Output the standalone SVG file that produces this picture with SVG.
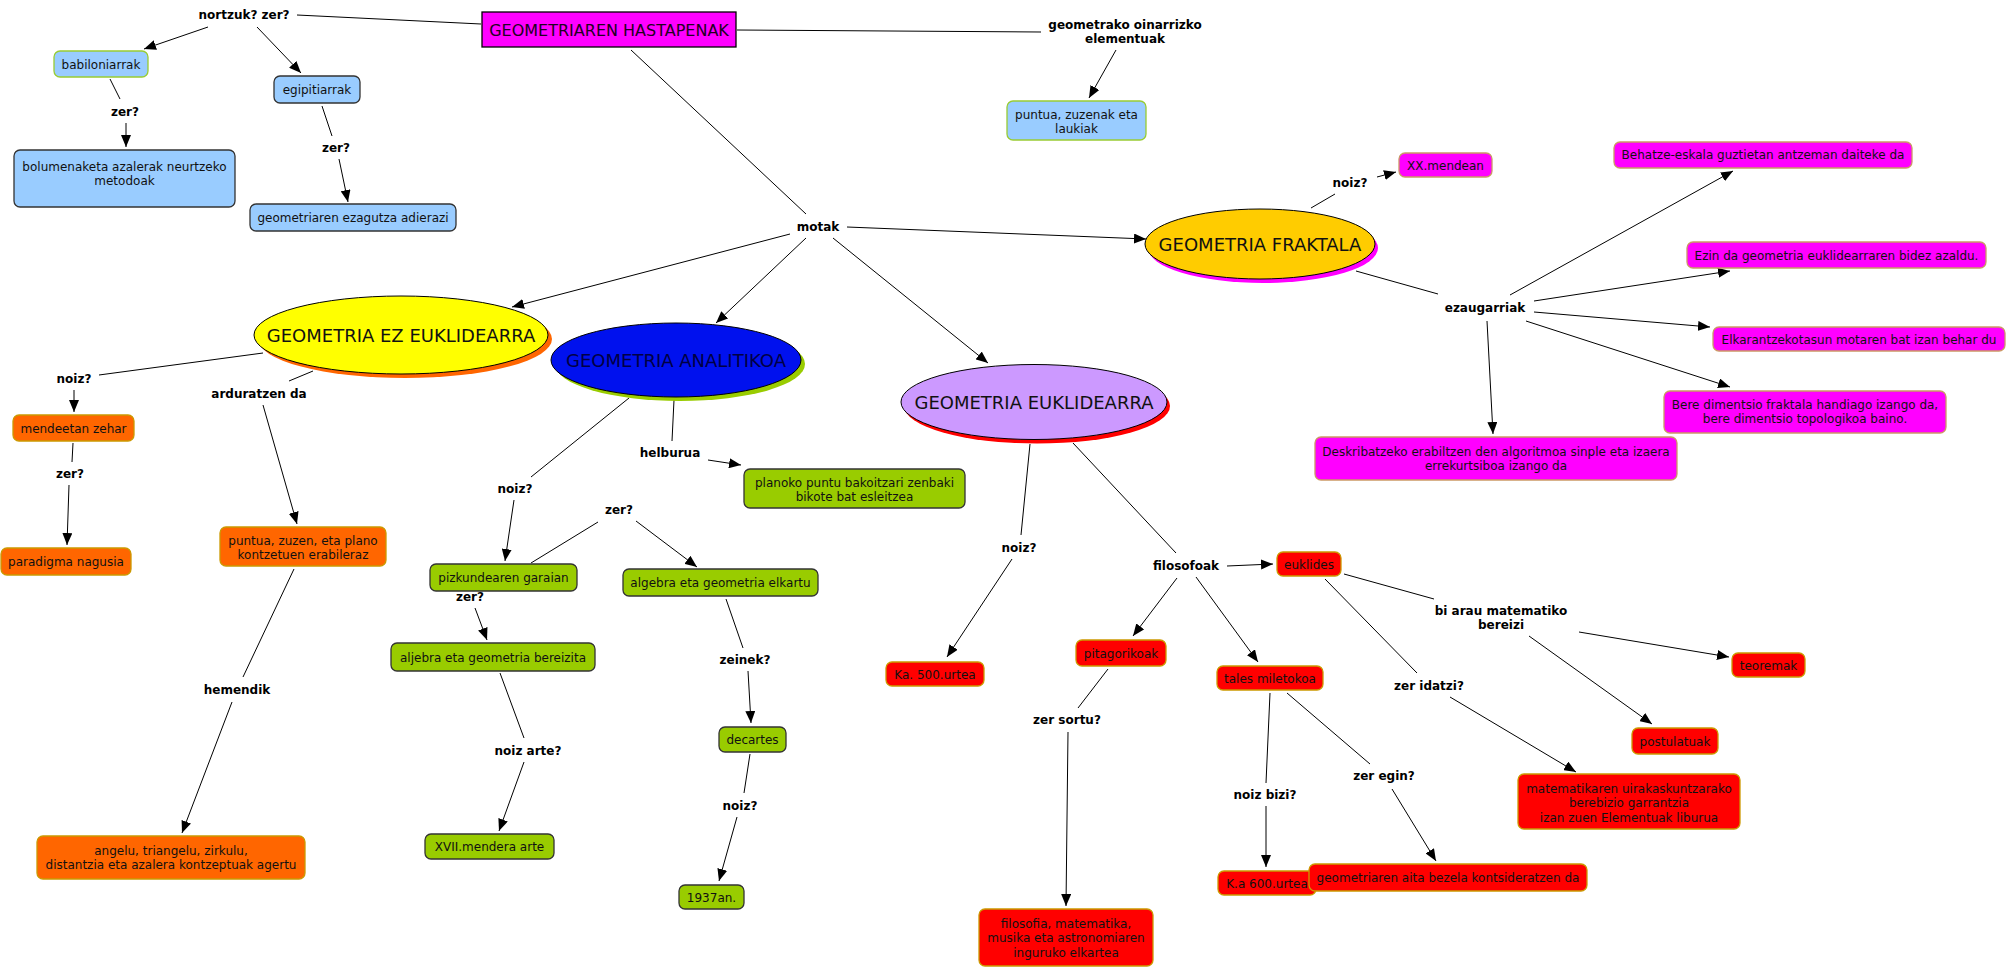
<svg xmlns="http://www.w3.org/2000/svg" width="2008" height="969" viewBox="0 0 2008 969">
<defs>
<marker id="ah" markerUnits="userSpaceOnUse" markerWidth="12" markerHeight="10" refX="12" refY="5" orient="auto">
<path d="M0,0 L12,5 L0,10 z" fill="#000"/>
</marker>
<style>
text{font-family:"DejaVu Sans",Verdana,sans-serif;text-anchor:middle;}
.lbl{font-size:12px;font-weight:bold;fill:#000;}
.nt{font-size:12px;fill:#111;}
.bt{font-size:18px;fill:#111;}
.c line{stroke:#000;stroke-width:1;fill:none;}
.c line.a{marker-end:url(#ah);}
rect.n{stroke-width:1.3;}
.blue{fill:#99CCFF;stroke:#333;}
.blueg{fill:#99CCFF;stroke:#99CC33;}
.or{fill:#FF6600;stroke:#CC9900;}
.gr{fill:#99CC00;stroke:#333;}
.rd{fill:#FF0000;stroke:#CC9900;}
.mg{fill:#FF00FF;stroke:#CC9966;}
ellipse.e{stroke:#000;stroke-width:1;}
</style>
</defs>
<rect width="2008" height="969" fill="#fff"/>

<g class="c">
<line x1="481" y1="24" x2="297" y2="15"/>
<line class="a" x1="208" y1="27" x2="144" y2="49"/>
<line class="a" x1="257" y1="27" x2="301" y2="73"/>
<line x1="110" y1="79" x2="120" y2="99"/>
<line class="a" x1="126" y1="123" x2="126" y2="147"/>
<line x1="322" y1="106" x2="332" y2="136"/>
<line class="a" x1="339" y1="159" x2="348" y2="202"/>
<line x1="737" y1="30" x2="1041" y2="32"/>
<line class="a" x1="1116" y1="50" x2="1089" y2="98"/>
<line x1="631" y1="50" x2="806" y2="214"/>
<line class="a" x1="847" y1="227" x2="1146" y2="239"/>
<line class="a" x1="790" y1="234" x2="512" y2="307"/>
<line class="a" x1="806" y1="238" x2="716" y2="323"/>
<line class="a" x1="833" y1="238" x2="988" y2="363"/>
<line x1="1311" y1="208" x2="1335" y2="194"/>
<line class="a" x1="1377" y1="177" x2="1396" y2="172"/>
<line x1="1356" y1="271" x2="1438" y2="294"/>
<line class="a" x1="1510" y1="295" x2="1733" y2="171"/>
<line class="a" x1="1534" y1="301" x2="1730" y2="271"/>
<line class="a" x1="1534" y1="312" x2="1710" y2="327"/>
<line class="a" x1="1526" y1="321" x2="1730" y2="387"/>
<line class="a" x1="1487" y1="321" x2="1493" y2="434"/>
<line x1="263" y1="353" x2="99" y2="375"/>
<line class="a" x1="74" y1="390" x2="74" y2="412"/>
<line x1="73" y1="443" x2="72" y2="462"/>
<line class="a" x1="69" y1="485" x2="67" y2="545"/>
<line x1="313" y1="371" x2="289" y2="381"/>
<line class="a" x1="263" y1="405" x2="297" y2="524"/>
<line x1="294" y1="569" x2="243" y2="677"/>
<line class="a" x1="232" y1="702" x2="182" y2="833"/>
<line x1="629" y1="398" x2="531" y2="477"/>
<line class="a" x1="514" y1="500" x2="505" y2="561"/>
<line x1="531" y1="563" x2="598" y2="522"/>
<line class="a" x1="636" y1="521" x2="697" y2="567"/>
<line x1="674" y1="400" x2="672" y2="441"/>
<line class="a" x1="708" y1="460" x2="741" y2="465"/>
<line class="a" x1="475" y1="608" x2="487" y2="640"/>
<line x1="500" y1="673" x2="524" y2="738"/>
<line class="a" x1="524" y1="762" x2="499" y2="831"/>
<line x1="726" y1="599" x2="743" y2="648"/>
<line class="a" x1="748" y1="671" x2="751" y2="723"/>
<line x1="750" y1="754" x2="744" y2="793"/>
<line class="a" x1="737" y1="817" x2="719" y2="881"/>
<line x1="1030" y1="444" x2="1021" y2="535"/>
<line class="a" x1="1012" y1="559" x2="947" y2="657"/>
<line x1="1073" y1="443" x2="1176" y2="553"/>
<line class="a" x1="1227" y1="566" x2="1273" y2="564"/>
<line class="a" x1="1177" y1="578" x2="1133" y2="636"/>
<line class="a" x1="1196" y1="577" x2="1258" y2="662"/>
<line x1="1344" y1="574" x2="1434" y2="599"/>
<line class="a" x1="1579" y1="632" x2="1729" y2="657"/>
<line class="a" x1="1529" y1="636" x2="1652" y2="724"/>
<line x1="1325" y1="579" x2="1417" y2="673"/>
<line class="a" x1="1450" y1="697" x2="1576" y2="772"/>
<line x1="1108" y1="669" x2="1078" y2="708"/>
<line class="a" x1="1068" y1="732" x2="1066" y2="906"/>
<line x1="1270" y1="693" x2="1266" y2="783"/>
<line class="a" x1="1266" y1="806" x2="1266" y2="867"/>
<line x1="1287" y1="693" x2="1370" y2="764"/>
<line class="a" x1="1392" y1="789" x2="1436" y2="861"/>
</g>

<g id="hastapenak"><rect x="482" y="12" width="254" height="35" fill="#FF00FF" stroke="#000" stroke-width="1.3"/><text x="609" y="36" style="font-size:16px;fill:#220022">GEOMETRIAREN HASTAPENAK</text></g>

<g id="lbl-nortzuk"><text class="lbl" x="244" y="18.5">nortzuk? zer?</text></g>
<g id="babiloniarrak"><rect class="n blueg" x="54" y="51" width="94" height="26" rx="6"/><text class="nt" x="101" y="68.5">babiloniarrak</text></g>
<g id="egipitiarrak"><rect class="n blue" x="274" y="76" width="86" height="27" rx="6"/><text class="nt" x="317" y="94">egipitiarrak</text></g>
<g id="lbl-zer1"><text class="lbl" x="125" y="115.5">zer?</text></g>
<g id="lbl-zer2"><text class="lbl" x="336" y="151.5">zer?</text></g>
<g id="bolumenaketa"><rect class="n blue" x="14" y="150" width="221" height="57" rx="6"/><text class="nt" x="124.5" y="170.5">bolumenaketa azalerak neurtzeko</text><text class="nt" x="124.5" y="184.5">metodoak</text></g>
<g id="ezagutza"><rect class="n blue" x="250" y="204" width="206" height="27" rx="6"/><text class="nt" x="353" y="222">geometriaren ezagutza adierazi</text></g>

<g id="lbl-geometrako"><text class="lbl" x="1125" y="28.5">geometrako oinarrizko</text><text class="lbl" x="1125" y="42.5">elementuak</text></g>
<g id="puntua-zuzenak"><rect class="n blueg" x="1007" y="101" width="139" height="39" rx="6"/><text class="nt" x="1076.5" y="118.5">puntua, zuzenak eta</text><text class="nt" x="1076.5" y="133">laukiak</text></g>

<g id="lbl-motak"><text class="lbl" x="818" y="230.5">motak</text></g>

<g id="fraktala"><ellipse cx="1263" cy="248" rx="115" ry="35" fill="#FF00FF"/><ellipse class="e" cx="1260" cy="244" rx="115" ry="35" fill="#FFCC00"/><text class="bt" x="1260" y="251">GEOMETRIA FRAKTALA</text></g>
<g id="lbl-noiz-fr"><text class="lbl" x="1350" y="186.5">noiz?</text></g>
<g id="xxmendean"><rect class="n mg" x="1399" y="153" width="93" height="24" rx="6"/><text class="nt" x="1445.5" y="169.5">XX.mendean</text></g>
<g id="lbl-ezaugarriak"><text class="lbl" x="1485" y="311.5">ezaugarriak</text></g>
<g id="behatze"><rect class="n mg" x="1614" y="142" width="298" height="26" rx="6"/><text class="nt" x="1763" y="159">Behatze-eskala guztietan antzeman daiteke da</text></g>
<g id="ezin"><rect class="n mg" x="1687" y="242" width="299" height="26" rx="6"/><text class="nt" x="1836.5" y="259.5">Ezin da geometria euklidearraren bidez azaldu.</text></g>
<g id="elkarantze"><rect class="n mg" x="1713" y="327" width="292" height="24" rx="6"/><text class="nt" x="1859" y="343.5">Elkarantzekotasun motaren bat izan behar du</text></g>
<g id="bere"><rect class="n mg" x="1664" y="391" width="282" height="42" rx="6"/><text class="nt" x="1805" y="408.5">Bere dimentsio fraktala handiago izango da,</text><text class="nt" x="1805" y="423">bere dimentsio topologikoa baino.</text></g>
<g id="deskribatzeko"><rect class="n mg" x="1315" y="437" width="362" height="43" rx="6"/><text class="nt" x="1496" y="455.5">Deskribatzeko erabiltzen den algoritmoa sinple eta izaera</text><text class="nt" x="1496" y="470">errekurtsiboa izango da</text></g>

<g id="ez-euklidearra"><ellipse cx="405" cy="339" rx="147" ry="39" fill="#FF6600"/><ellipse class="e" cx="401" cy="335" rx="147" ry="39" fill="#FFFF00"/><text class="bt" x="401" y="342">GEOMETRIA EZ EUKLIDEARRA</text></g>
<g id="lbl-noiz-ez"><text class="lbl" x="74" y="382.5">noiz?</text></g>
<g id="lbl-arduratzen"><text class="lbl" x="259" y="397.5">arduratzen da</text></g>
<g id="mendeetan"><rect class="n or" x="13" y="415" width="121" height="26" rx="6"/><text class="nt" x="73.5" y="432.5">mendeetan zehar</text></g>
<g id="lbl-zer3"><text class="lbl" x="70" y="477.5">zer?</text></g>
<g id="paradigma"><rect class="n or" x="1" y="548" width="130" height="27" rx="6"/><text class="nt" x="66" y="566">paradigma nagusia</text></g>
<g id="puntua-zuzen"><rect class="n or" x="220" y="527" width="166" height="39" rx="6"/><text class="nt" x="303" y="544.5">puntua, zuzen, eta plano</text><text class="nt" x="303" y="558.5">kontzetuen erabileraz</text></g>
<g id="lbl-hemendik"><text class="lbl" x="237" y="693.5">hemendik</text></g>
<g id="angelu"><rect class="n or" x="37" y="836" width="268" height="43" rx="6"/><text class="nt" x="171" y="854.5">angelu, triangelu, zirkulu,</text><text class="nt" x="171" y="869">distantzia eta azalera kontzeptuak agertu</text></g>

<g id="analitikoa"><ellipse cx="680" cy="364" rx="125" ry="37" fill="#99CC00"/><ellipse class="e" cx="676" cy="360" rx="125" ry="37" fill="#0011EE"/><text class="bt" x="676" y="367" style="fill:#000044">GEOMETRIA ANALITIKOA</text></g>
<g id="lbl-helburua"><text class="lbl" x="670" y="456.5">helburua</text></g>
<g id="planoko"><rect class="n gr" x="744" y="469" width="221" height="39" rx="6"/><text class="nt" x="854.5" y="486.5">planoko puntu bakoitzari zenbaki</text><text class="nt" x="854.5" y="500.5">bikote bat esleitzea</text></g>
<g id="lbl-noiz-an"><text class="lbl" x="515" y="492.5">noiz?</text></g>
<g id="lbl-zer4"><text class="lbl" x="619" y="513.5">zer?</text></g>
<g id="pizkundearen"><rect class="n gr" x="430" y="564" width="147" height="27" rx="6"/><text class="nt" x="503.5" y="582">pizkundearen garaian</text></g>
<g id="lbl-zer5"><text class="lbl" x="470" y="600.5">zer?</text></g>
<g id="algebra"><rect class="n gr" x="623" y="569" width="195" height="27" rx="6"/><text class="nt" x="720.5" y="587">algebra eta geometria elkartu</text></g>
<g id="aljebra"><rect class="n gr" x="391" y="643" width="204" height="28" rx="6"/><text class="nt" x="493" y="661.5">aljebra eta geometria bereizita</text></g>
<g id="lbl-zeinek"><text class="lbl" x="745" y="663.5">zeinek?</text></g>
<g id="decartes"><rect class="n gr" x="719" y="727" width="67" height="25" rx="6"/><text class="nt" x="752.5" y="744">decartes</text></g>
<g id="lbl-noiz-arte"><text class="lbl" x="528" y="754.5">noiz arte?</text></g>
<g id="xvii"><rect class="n gr" x="425" y="834" width="129" height="25" rx="6"/><text class="nt" x="489.5" y="851">XVII.mendera arte</text></g>
<g id="lbl-noiz-dec"><text class="lbl" x="740" y="809.5">noiz?</text></g>
<g id="y1937"><rect class="n gr" x="679" y="885" width="65" height="24" rx="6"/><text class="nt" x="711.5" y="901.5">1937an.</text></g>

<g id="euklidearra"><ellipse cx="1037" cy="406" rx="133" ry="37.5" fill="#FF0000"/><ellipse class="e" cx="1034" cy="402" rx="133" ry="37.5" fill="#CC99FF"/><text class="bt" x="1034" y="409">GEOMETRIA EUKLIDEARRA</text></g>
<g id="lbl-noiz-eu"><text class="lbl" x="1019" y="551.5">noiz?</text></g>
<g id="lbl-filosofoak"><text class="lbl" x="1186" y="569.5">filosofoak</text></g>
<g id="euklides"><rect class="n rd" x="1277" y="552" width="64" height="24" rx="6"/><text class="nt" x="1309" y="568.5">euklides</text></g>
<g id="ka500"><rect class="n rd" x="886" y="662" width="98" height="24" rx="6"/><text class="nt" x="935" y="678.5">Ka. 500.urtea</text></g>
<g id="pitagorikoak"><rect class="n rd" x="1076" y="640" width="90" height="26" rx="6"/><text class="nt" x="1121" y="657.5">pitagorikoak</text></g>
<g id="tales"><rect class="n rd" x="1217" y="666" width="106" height="24" rx="6"/><text class="nt" x="1270" y="682.5">tales miletokoa</text></g>
<g id="lbl-biarau"><text class="lbl" x="1501" y="614.5">bi arau matematiko</text><text class="lbl" x="1501" y="628.5">bereizi</text></g>
<g id="lbl-zeridatzi"><text class="lbl" x="1429" y="689.5">zer idatzi?</text></g>
<g id="teoremak"><rect class="n rd" x="1732" y="653" width="73" height="24" rx="6"/><text class="nt" x="1768.5" y="669.5">teoremak</text></g>
<g id="postulatuak"><rect class="n rd" x="1632" y="728" width="86" height="26" rx="6"/><text class="nt" x="1675" y="745.5">postulatuak</text></g>
<g id="matematikaren"><rect class="n rd" x="1518" y="774" width="222" height="55" rx="6"/><text class="nt" x="1629" y="792.5">matematikaren uirakaskuntzarako</text><text class="nt" x="1629" y="807">berebizio garrantzia</text><text class="nt" x="1629" y="821.5">izan zuen Elementuak liburua</text></g>
<g id="lbl-zersortu"><text class="lbl" x="1067" y="723.5">zer sortu?</text></g>
<g id="lbl-noizbizi"><text class="lbl" x="1265" y="798.5">noiz bizi?</text></g>
<g id="lbl-zeregin"><text class="lbl" x="1384" y="779.5">zer egin?</text></g>
<g id="filosofia"><rect class="n rd" x="979" y="909" width="174" height="57" rx="6"/><text class="nt" x="1066" y="927.5">filosofia, matematika,</text><text class="nt" x="1066" y="942">musika eta astronomiaren</text><text class="nt" x="1066" y="956.5">inguruko elkartea</text></g>
<g id="ka600"><rect class="n rd" x="1218" y="871" width="98" height="24" rx="6"/><text class="nt" x="1267" y="887.5">K.a 600.urtea</text></g>
<g id="aita"><rect class="n rd" x="1309" y="864" width="278" height="27" rx="6"/><text class="nt" x="1448" y="882">geometriaren aita bezela kontsideratzen da</text></g>
</svg>
